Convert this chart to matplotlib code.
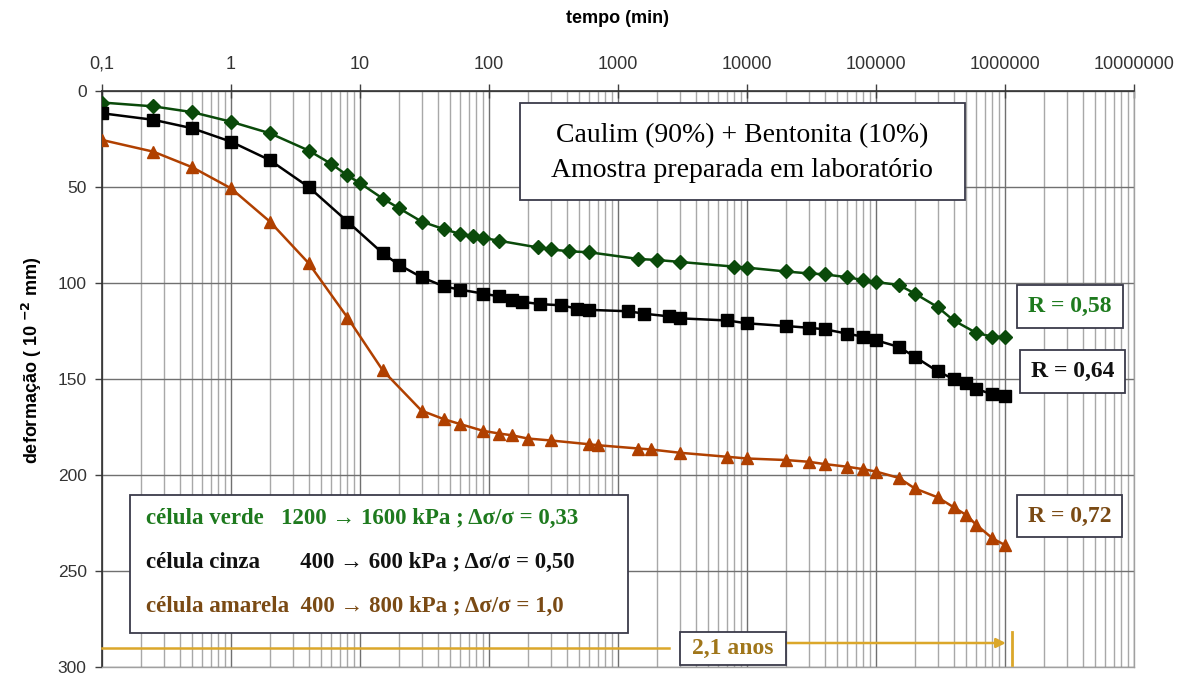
import matplotlib
matplotlib.use("Agg")
import matplotlib.pyplot as plt
from matplotlib.ticker import LogLocator, FixedLocator, FixedFormatter, NullFormatter

# ---------------- data ----------------
t_green = [0.1, 0.25, 0.5, 1, 2, 4, 6, 8, 10, 15, 20, 30, 45, 60, 75, 90, 120, 240, 300, 420,
           600, 1440, 2000, 3000, 8000, 10000, 20000, 30000, 40000, 60000, 80000, 100000,
           150000, 200000, 300000, 400000, 600000, 800000, 1000000]
d_green = [6, 8, 11, 16, 22, 31, 38, 44, 48, 56, 61, 68, 72, 74.5, 75.5, 76.5, 78, 81.5, 82.5, 83.5,
           84, 87.5, 88, 89, 91.5, 92, 94, 95, 95.5, 97, 98.5, 99.5,
           101, 105.5, 112.5, 119.5, 126, 128, 128]

t_black = [0.1, 0.25, 0.5, 1, 2, 4, 8, 15, 20, 30, 45, 60, 90, 120, 150, 180, 250, 360, 480, 600,
           1200, 1600, 2500, 3000, 7000, 10000, 20000, 30000, 40000, 60000, 80000, 100000,
           150000, 200000, 300000, 400000, 500000, 600000, 800000, 1000000]
d_black = [11.6, 15, 19.4, 26.4, 36, 50, 68, 84.5, 90.5, 97, 101.8, 103.5, 105.5, 107, 109, 109.8, 111, 111.6, 113.3, 114,
           114.7, 116, 117.4, 118.4, 119.5, 121, 122.4, 123.3, 124.1, 126.4, 128, 129.8,
           133.3, 138.4, 146, 150, 152.2, 155.2, 158, 159]

t_brown = [0.1, 0.25, 0.5, 1, 2, 4, 8, 15, 30, 45, 60, 90, 120, 150, 200, 300, 600, 700,
           1440, 1800, 3000, 7000, 10000, 20000, 30000, 40000, 60000, 80000, 100000,
           150000, 200000, 300000, 400000, 500000, 600000, 800000, 1000000]
d_brown = [25.5, 31.6, 39.7, 50.7, 68, 89.7, 118, 145.5, 166.5, 171, 173.5, 177, 178.4, 179.3, 181, 182, 184, 184.5,
           186.2, 186.7, 188.4, 190.5, 191.4, 192.2, 193.1, 194.3, 195.7, 197, 198.2,
           201.5, 207, 211.6, 216.8, 220.8, 226, 233, 236.5]

x_ticks = [0.1, 1, 10, 100, 1000, 10000, 100000, 1000000, 10000000]
x_ticklabels = ['0,1', '1', '10', '100', '1000', '10000', '100000', '1000000', '10000000']
y_ticks = [0, 50, 100, 150, 200, 250, 300]

title_lines = ['Caulim (90%) + Bentonita (10%)', 'Amostra preparada em laboratório']
legend_lines = ['célula verde   1200 → 1600 kPa ; Δσ/σ = 0,33',
                'célula cinza       400 → 600 kPa ; Δσ/σ = 0,50',
                'célula amarela  400 → 800 kPa ; Δσ/σ = 1,0']
r_labels = ['R = 0,58', 'R = 0,64', 'R = 0,72']
years_label = '2,1 anos'
t_end = 1.1e6   # 2,1 anos em minutos

# ---------------- style ----------------
c_green = '#0a4a0a'
c_black = '#000000'
c_brown = '#b04000'
txt_green = '#1e7a1e'
txt_brown = '#7a4a14'
gold = '#dba72a'
edge = '#3a3a4a'
serif = ['Liberation Serif', 'DejaVu Serif']
sans = ['Liberation Sans', 'DejaVu Sans']

W, H = 1190, 675
X0, X1, Y0, Y1 = 102, 1134, 91, 667


def ax_x(px):
    return (px - X0) / (X1 - X0)


def ax_y(py):
    return 1 - (py - Y0) / (Y1 - Y0)


fig = plt.figure(figsize=(11.9, 6.75), dpi=100)
ax = fig.add_axes([X0/W, (H-Y1)/H, (X1-X0)/W, (Y1-Y0)/H])
ax.set_xscale('log')
ax.set_xlim(0.1, 1e7)
ax.set_ylim(300, 0)

ax.xaxis.tick_top()
ax.xaxis.set_label_position('top')
ax.xaxis.set_major_locator(FixedLocator(x_ticks))
ax.xaxis.set_major_formatter(FixedFormatter(x_ticklabels))
ax.xaxis.set_minor_locator(LogLocator(base=10, subs=range(2, 10), numticks=100))
ax.xaxis.set_minor_formatter(NullFormatter())
ax.set_yticks(y_ticks)

ax.tick_params(axis='x', which='major', direction='inout', length=10, width=1,
               color='#404040', labelsize=13, labelcolor='#333333', pad=8)
ax.tick_params(axis='x', which='minor', length=0)
ax.tick_params(axis='y', which='major', direction='out', length=5, width=1,
               color='#404040', labelsize=12.5, labelcolor='#333333', pad=6)
for lab in ax.get_xticklabels() + ax.get_yticklabels():
    lab.set_family(sans)

ax.grid(which='major', axis='x', color='#707070', lw=1.0)
ax.grid(which='minor', axis='x', color='#a8a8a8', lw=1.0)
ax.grid(which='major', axis='y', color='#707070', lw=1.0)
ax.set_axisbelow(True)

for s in ['top', 'left']:
    ax.spines[s].set_color('#303030')
    ax.spines[s].set_linewidth(1.2)
for s in ['right', 'bottom']:
    ax.spines[s].set_color('#a0a0a0')
    ax.spines[s].set_linewidth(1.0)

ax.set_xlabel('tempo (min)', fontsize=13, fontweight='bold', family=sans, labelpad=24)
ax.set_ylabel('deformação ( 10 $^{\\mathbf{-2}}$ mm)', fontsize=13, fontweight='bold', family=sans)
ax.yaxis.set_label_coords(ax_x(44), ax_y(360))

# ---------------- curves ----------------
ax.plot(t_green, d_green, color=c_green, lw=1.8, marker='D', ms=7, mfc=c_green, mec=c_green, zorder=5)
ax.plot(t_black, d_black, color=c_black, lw=1.8, marker='s', ms=8.5, mfc=c_black, mec=c_black, zorder=5)
ax.plot(t_brown, d_brown, color=c_brown, lw=1.8, marker='^', ms=9, mfc=c_brown, mec=c_brown, zorder=5)

# title box
ax.add_patch(plt.Rectangle((ax_x(520), ax_y(200)), ax_x(965) - ax_x(520), ax_y(103) - ax_y(200),
                           transform=ax.transAxes, fc='white', ec=edge, lw=1.3, zorder=10))
for py, s in zip([136, 171], title_lines):
    ax.text(ax_x(742), ax_y(py), s, transform=ax.transAxes, ha='center', va='center',
            fontsize=20, family=serif, color='black', zorder=11)

# legend box
ax.add_patch(plt.Rectangle((ax_x(130), ax_y(633)), ax_x(628) - ax_x(130), ax_y(495) - ax_y(633),
                           transform=ax.transAxes, fc='white', ec=edge, lw=1.3, zorder=10))
lg_py = [518, 562, 606]
lg_c = [txt_green, '#111111', txt_brown]
for py, s, c in zip(lg_py, legend_lines, lg_c):
    ax.text(ax_x(146), ax_y(py), s, transform=ax.transAxes, ha='left', va='center', fontsize=16.5,
            fontweight='bold', family=serif, color=c, zorder=11)

# R boxes
r_box = [(1017, 1123, 285, 328), (1020, 1125, 350, 393), (1017, 1122, 495, 537)]
r_col = [txt_green, '#111111', txt_brown]
for (xa, xb, ya, yb), s, c in zip(r_box, r_labels, r_col):
    ax.add_patch(plt.Rectangle((ax_x(xa), ax_y(yb)), ax_x(xb) - ax_x(xa), ax_y(ya) - ax_y(yb),
                               transform=ax.transAxes, fc='white', ec=edge, lw=1.3, zorder=10))
    ax.text(ax_x((xa + xb) / 2), ax_y((ya + yb) / 2), s, transform=ax.transAxes, ha='center',
            va='center', fontsize=17, fontweight='bold', family=serif, color=c, zorder=11)

# 2,1 anos annotation
ax.plot([0.1, 2500], [290, 290], color=gold, lw=1.8, zorder=6, clip_on=False)
ax.annotate('', xy=(t_end*0.97, 287.5), xytext=(13500, 287.5),
            arrowprops=dict(arrowstyle='-|>', color=gold, lw=1.8, mutation_scale=14), zorder=6)
ax.plot([t_end*1.03, t_end*1.03], [282, 299], color=gold, lw=2, zorder=6)
ax.add_patch(plt.Rectangle((ax_x(680), ax_y(665)), ax_x(786) - ax_x(680), ax_y(632) - ax_y(665),
                           transform=ax.transAxes, fc='white', ec=edge, lw=1.3, zorder=10))
ax.text(ax_x(733), ax_y(648), years_label, transform=ax.transAxes, ha='center',
        va='center', fontsize=17, fontweight='bold', family=serif, color='#a0761a', zorder=11)

fig.savefig('out.png', dpi=100, facecolor='white')
